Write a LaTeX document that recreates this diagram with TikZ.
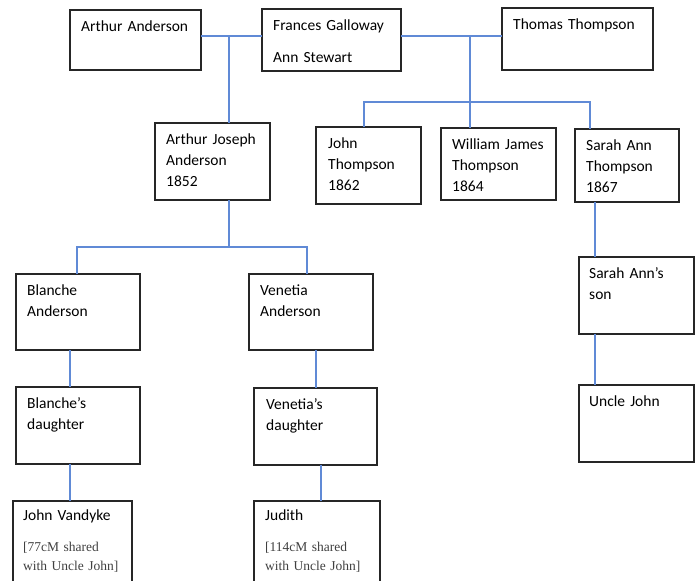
\documentclass[tikz,border=0pt]{standalone}
\usepackage{fontspec}
\setmainfont{Carlito}
\newfontfamily\notefont{Liberation Serif}
\definecolor{linkblue}{RGB}{96,138,214}
\definecolor{notegrey}{RGB}{64,64,64}
\begin{document}
\begin{tikzpicture}[x=1pt, y=-1pt,
    person/.style={draw=black!85, line width=1.2pt, anchor=north west, inner sep=0pt, outer sep=0pt},
    who/.style={anchor=north west, align=left, text width=125pt, inner sep=0pt, xshift=11pt, yshift=-6.8pt, font=\fontsize{15.5}{21}\selectfont, execute at begin node=\strut},
    note/.style={anchor=north west, align=left, text width=120pt, inner sep=0pt, xshift=10pt, yshift=-37.4pt, text=notegrey, font=\notefont\fontsize{13.5}{19}\selectfont, execute at begin node=\strut},
    link/.style={draw=linkblue, line width=1.3pt} ]
            \useasboundingbox (0,0) rectangle (697,581);
            \clip (0,0) rectangle (697,581);

            \node[person, minimum width=131pt, minimum height=60pt, label={[who]north west:Arthur Anderson}] (AA) at (70, 10) {};
            \node[person, minimum width=139pt, minimum height=62pt, label={[who]north west:Frances Galloway\\[11pt]Ann Stewart}] (FG) at (262, 9) {};
            \node[person, minimum width=151pt, minimum height=62pt, label={[who]north west:Thomas Thompson}] (TT) at (502, 8) {};
            \node[person, minimum width=115pt, minimum height=77pt, label={[who]north west:Arthur Joseph\\Anderson\\1852}] (AJ) at (155, 123) {};
            \node[person, minimum width=105pt, minimum height=77pt, label={[who, xshift=1pt]north west:John\\Thompson\\1862}] (JT) at (316, 127) {};
            \node[person, minimum width=115pt, minimum height=72pt, label={[who]north west:William James\\Thompson\\1864}] (WJ) at (441, 128) {};
            \node[person, minimum width=104pt, minimum height=73pt, label={[who]north west:Sarah Ann\\Thompson\\1867}] (SA) at (575, 129) {};
            \node[person, minimum width=124pt, minimum height=76pt, label={[who]north west:Blanche\\Anderson}] (BA) at (16, 274) {};
            \node[person, minimum width=124pt, minimum height=76pt, label={[who]north west:Venetia\\Anderson}] (VA) at (249, 274) {};
            \node[person, minimum width=115pt, minimum height=77pt, label={[who, xshift=-1pt]north west:Sarah Ann’s\\son}] (SS) at (579, 257) {};
            \node[person, minimum width=124pt, minimum height=77pt, label={[who]north west:Blanche’s\\daughter}] (BD) at (16, 387) {};
            \node[person, minimum width=123pt, minimum height=77pt, label={[who, xshift=1pt]north west:Venetia’s\\daughter}] (VD) at (254, 388) {};
            \node[person, minimum width=115pt, minimum height=77pt, label={[who, xshift=-1pt]north west:Uncle John}] (UJ) at (579, 385) {};
            \node[person, minimum width=119pt, minimum height=100pt, label={[who, xshift=-1pt, yshift=2pt]north west:John Vandyke}, label={[note]north west:{[77cM shared\\with Uncle John]}}] (JV) at (13, 501) {};
            \node[person, minimum width=126pt, minimum height=100pt, label={[who, yshift=2pt]north west:Judith}, label={[note, xshift=1pt]north west:{[114cM shared\\with Uncle John]}}] (JU) at (254, 501) {};

            % Junctions
            \coordinate (AAFG) at (229, 36);
            \coordinate (FGTT) at (470, 36);
            \coordinate (TTleft) at (364, 102);
            \coordinate (TTright) at (590, 102);
            \coordinate (AJleft) at (77, 247);
            \coordinate (AJright) at (307, 247);
            \coordinate (BAline) at (70, 0);
            \coordinate (VAline) at (316, 0);
            \coordinate (VDline) at (321, 0);
            \coordinate (SAline) at (595, 0);

            % Edges
            \draw[link] (AA.east |- AAFG) -- (FG.west |- AAFG);
            \draw[link] (AAFG) -- (AAFG |- AJ.north);
            \draw[link] (FG.east |- FGTT) -- (TT.west |- FGTT);
            \draw[link] (FGTT) -- (FGTT |- WJ.north);
            \draw[link] (TTleft |- JT.north) -- (TTleft) -- (TTright) -- (TTright |- SA.north);
            \draw[link] (AAFG |- AJ.south) -- (AAFG |- AJleft);
            \draw[link] (AJleft |- BA.north) -- (AJleft) -- (AJright) -- (AJright |- VA.north);
            \draw[link] (BAline |- BA.south) -- (BAline |- BD.north);
            \draw[link] (BAline |- BD.south) -- (BAline |- JV.north);
            \draw[link] (VAline |- VA.south) -- (VAline |- VD.north);
            \draw[link] (VDline |- VD.south) -- (VDline |- JU.north);
            \draw[link] (SAline |- SA.south) -- (SAline |- SS.north);
            \draw[link] (SAline |- SS.south) -- (SAline |- UJ.north);
        \end{tikzpicture}
\end{document}
